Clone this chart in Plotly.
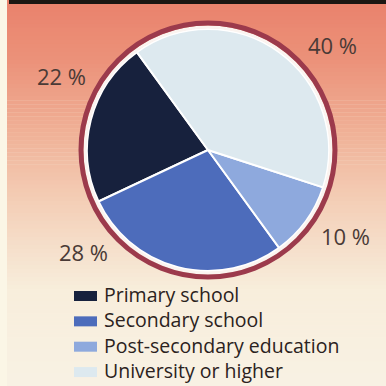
import plotly.graph_objects as go
import numpy as np

# ---- data ----
categories = ["Primary school", "Secondary school", "Post-secondary education", "University or higher"]
shares = [22, 28, 10, 40]
colors = ["#17213d", "#4d6cbb", "#8ea9dd", "#dde9ef"]

# label placement (styling): pixel centre of each percentage label
label_pos = [(61, 76), (83, 252), (345, 236), (332, 45)]

W = H = 386
cx, cy, r = 208, 150, 121

def px(x):
    return x / W

def py(y):
    return 1 - y / H

fig = go.Figure()
fig.add_trace(go.Pie(
    labels=categories, values=shares, sort=False,
    direction="counterclockwise", rotation=244.8,
    marker=dict(colors=colors, line=dict(color="white", width=2)),
    textinfo="none", hoverinfo="label+percent",
    domain=dict(x=[px(cx - r), px(cx + r)], y=[py(cy + r), py(cy - r)]),
    showlegend=False,
))

# background gradient bands
stops_y = [0, 60, 130, 200, 250, 290, 386]
stops_c = [(234, 130, 108), (236, 146, 122), (240, 176, 150), (244, 206, 182), (246, 224, 204), (248, 238, 220), (249, 242, 228)]
shapes = []
nb = 96
for i in range(nb):
    y0 = i * H / nb
    y1 = (i + 1) * H / nb
    ym = (y0 + y1) / 2
    c = [int(np.interp(ym, stops_y, [s[k] for s in stops_c])) for k in range(3)]
    shapes.append(dict(type="rect", xref="paper", yref="paper", x0=0, x1=1,
                       y0=py(y1), y1=py(y0) + 0.001, fillcolor=f"rgb({c[0]},{c[1]},{c[2]})",
                       line=dict(width=0), layer="below"))
# scanned paper edge at left
shapes.append(dict(type="rect", xref="paper", yref="paper", x0=0, x1=px(7), y0=0, y1=1,
                   fillcolor="#fbf6e6", line=dict(width=0), layer="below"))
# top dark title bar (cut off)
shapes.append(dict(type="rect", xref="paper", yref="paper", x0=px(9), x1=1, y0=py(4), y1=1,
                   fillcolor="#1c1612", line=dict(width=0), layer="below"))
# white rim and maroon ring around the pie
shapes.append(dict(type="circle", xref="paper", yref="paper",
                   x0=px(cx - 123), x1=px(cx + 123), y0=py(cy + 123), y1=py(cy - 123),
                   line=dict(color="#fbf4f0", width=3)))
shapes.append(dict(type="circle", xref="paper", yref="paper",
                   x0=px(cx - 127), x1=px(cx + 127), y0=py(cy + 127), y1=py(cy - 127),
                   line=dict(color="#9c3a4c", width=5)))

annotations = []
for v, (lx, ly) in zip(shares, label_pos):
    annotations.append(dict(x=px(lx), y=py(ly), xref="paper", yref="paper",
                            text=f"{v} %", showarrow=False, xanchor="center", yanchor="middle",
                            font=dict(size=22, color="#4a3a36", family="Open Sans")))

# legend: swatches + one multi-line label block
leg_font = 19.5
leg_x0, leg_y0 = 74, 296
leg_dy = leg_font * 1.3
for i, col in enumerate(colors):
    yc = leg_y0 + i * leg_dy
    shapes.append(dict(type="rect", xref="paper", yref="paper",
                       x0=px(leg_x0), x1=px(leg_x0 + 23), y0=py(yc + 5), y1=py(yc - 5),
                       fillcolor=col, line=dict(width=0)))
block_center = leg_y0 - 2 + 1.5 * leg_dy
annotations.append(dict(x=px(leg_x0 + 29), y=py(block_center), xref="paper", yref="paper",
                        text="<br>".join(categories), showarrow=False,
                        xanchor="left", yanchor="middle", align="left", borderpad=0,
                        font=dict(size=leg_font, color="#2b2220", family="Open Sans")))

fig.update_layout(
    width=W, height=H, margin=dict(l=0, r=0, t=0, b=0),
    paper_bgcolor="#f9f2e4", plot_bgcolor="rgba(0,0,0,0)",
    shapes=shapes, annotations=annotations, showlegend=False,
)

fig.write_html("out.html")
